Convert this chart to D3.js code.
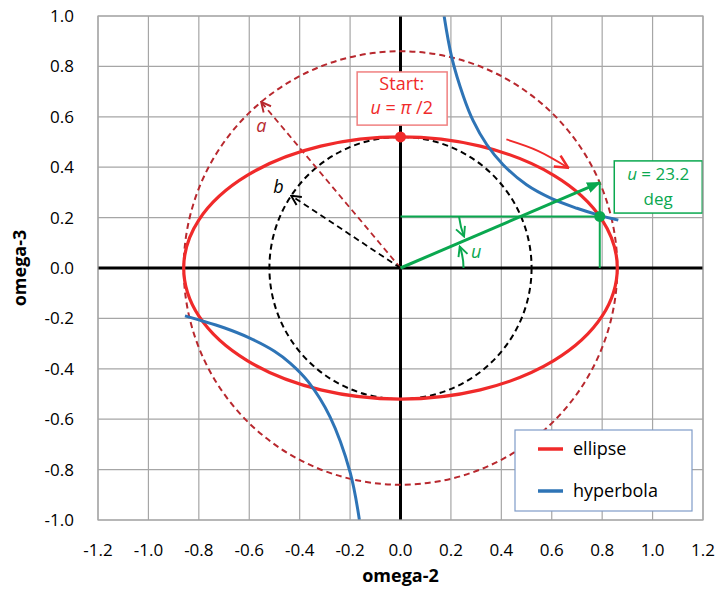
<!DOCTYPE html>
<html>
<head>
<meta charset="utf-8">
<script src="https://cdn.jsdelivr.net/npm/d3@7"></script>
<style>
  html, body { margin: 0; padding: 0; background: #fff; }
  svg { display: block; font-family: "Open Sans", "Noto Sans", sans-serif; }
</style>
</head>
<body>
<svg id="chart" width="720" height="589"></svg>
<script>
// Axis ticks
const xTicks = [-1.2, -1.0, -0.8, -0.6, -0.4, -0.2, 0.0, 0.2, 0.4, 0.6, 0.8, 1.0, 1.2];
const yTicks = [-1.0, -0.8, -0.6, -0.4, -0.2, 0.0, 0.2, 0.4, 0.6, 0.8, 1.0];

// Ellipse semi-axes and the marked parameter angle (degrees)
const semiA = 0.86;
const semiB = 0.52;
const uDeg = 23.2;

// Hyperbola branches (omega-2, omega-3)
const hypUpperX = [0.173, 0.204, 0.25, 0.288, 0.342, 0.407, 0.5, 0.6, 0.7, 0.78, 0.864];
const hypUpperY = [1.0, 0.833, 0.68, 0.585, 0.49, 0.41, 0.33, 0.275, 0.237, 0.212, 0.19];
const hypLowerX = [-0.855, -0.8, -0.7, -0.6, -0.5, -0.438, -0.367, -0.28, -0.2, -0.163];
const hypLowerY = [-0.19, -0.206, -0.237, -0.277, -0.33, -0.377, -0.45, -0.59, -0.81, -1.0];

const legendItems = ["ellipse", "hyperbola"];

const W = 720, H = 589;
const margin = { left: 98, right: 17, top: 16, bottom: 69 };

const svg = d3.select("#chart");
const x = d3.scaleLinear().domain([-1.2, 1.2]).range([margin.left, W - margin.right]);
const y = d3.scaleLinear().domain([-1.0, 1.0]).range([H - margin.bottom, margin.top]);

const RED = "#f02a2a", DARKRED = "#b8282e", BLUE = "#2e74b6", GREEN = "#0aa84f";

// markers
const defs = svg.append("defs");
function openArrow(id, color, size) {
  defs.append("marker").attr("id", id)
    .attr("viewBox", "0 0 10 10").attr("refX", 9).attr("refY", 5)
    .attr("markerUnits", "userSpaceOnUse")
    .attr("markerWidth", size).attr("markerHeight", size)
    .attr("orient", "auto")
    .append("path").attr("d", "M1,1 L9,5 L1,9")
    .attr("fill", "none").attr("stroke", color).attr("stroke-width", 1.6);
}
openArrow("arrDarkRed", DARKRED, 12);
openArrow("arrBlack", "#000", 12);
openArrow("arrRed", RED, 16);
openArrow("arrGreen", GREEN, 12);
defs.append("marker").attr("id", "arrGreenFill")
  .attr("viewBox", "0 0 10 10").attr("refX", 9).attr("refY", 5)
  .attr("markerUnits", "userSpaceOnUse")
  .attr("markerWidth", 14).attr("markerHeight", 14)
  .attr("orient", "auto")
  .append("path").attr("d", "M0,1 L10,5 L0,9 Z").attr("fill", GREEN);

defs.append("clipPath").attr("id", "plotClip")
  .append("rect")
  .attr("x", x(-1.2)).attr("y", y(1.0))
  .attr("width", x(1.2) - x(-1.2)).attr("height", y(-1.0) - y(1.0));

// grid
const grid = svg.append("g");
grid.selectAll(".vg").data(xTicks).enter().append("line")
  .attr("x1", d => x(d)).attr("x2", d => x(d))
  .attr("y1", y(-1.0)).attr("y2", y(1.0))
  .attr("stroke", "#a6a6a6").attr("stroke-width", 1.2);
grid.selectAll(".hg").data(yTicks).enter().append("line")
  .attr("x1", x(-1.2)).attr("x2", x(1.2))
  .attr("y1", d => y(d)).attr("y2", d => y(d))
  .attr("stroke", "#a6a6a6").attr("stroke-width", 1.2);

// tick labels
const fmt = d => d3.format(".1f")(d).replace("−", "-");
svg.append("g").selectAll("text").data(xTicks).enter().append("text")
  .attr("x", d => x(d)).attr("y", y(-1.0) + 36)
  .attr("text-anchor", "middle").attr("font-size", 17).attr("fill", "#000")
  .text(fmt);
svg.append("g").selectAll("text").data(yTicks).enter().append("text")
  .attr("x", x(-1.2) - 24).attr("y", d => y(d) + 6)
  .attr("text-anchor", "end").attr("font-size", 17).attr("fill", "#000")
  .text(fmt);

// axis titles
svg.append("text").attr("x", x(0)).attr("y", 582)
  .attr("text-anchor", "middle").attr("font-size", 18).attr("font-weight", "bold")
  .text("omega-2");
svg.append("text").attr("transform", `translate(26,${y(0)}) rotate(-90)`)
  .attr("text-anchor", "middle").attr("font-size", 18).attr("font-weight", "bold")
  .text("omega-3");

const plot = svg.append("g").attr("clip-path", "url(#plotClip)");

// main axes through the origin
plot.append("line").attr("x1", x(-1.2)).attr("x2", x(1.2)).attr("y1", y(0)).attr("y2", y(0))
  .attr("stroke", "#000").attr("stroke-width", 3);
plot.append("line").attr("x1", x(0)).attr("x2", x(0)).attr("y1", y(-1)).attr("y2", y(1))
  .attr("stroke", "#000").attr("stroke-width", 3);

// auxiliary circles: radius a (outer) and radius b (inner)
plot.append("ellipse").attr("cx", x(0)).attr("cy", y(0))
  .attr("rx", x(semiA) - x(0)).attr("ry", y(0) - y(semiA))
  .attr("fill", "none").attr("stroke", DARKRED).attr("stroke-width", 2)
  .attr("stroke-dasharray", "6,4");
plot.append("ellipse").attr("cx", x(0)).attr("cy", y(0))
  .attr("rx", x(semiB) - x(0)).attr("ry", y(0) - y(semiB))
  .attr("fill", "none").attr("stroke", "#000").attr("stroke-width", 2)
  .attr("stroke-dasharray", "6,4");

// radius a and radius b indicators
const angA = 130 * Math.PI / 180, angB = 146.5 * Math.PI / 180;
plot.append("line").attr("x1", x(0)).attr("y1", y(0))
  .attr("x2", x(semiA * Math.cos(angA))).attr("y2", y(semiA * Math.sin(angA)))
  .attr("stroke", DARKRED).attr("stroke-width", 1.8).attr("stroke-dasharray", "6,4")
  .attr("marker-end", "url(#arrDarkRed)");
plot.append("line").attr("x1", x(0)).attr("y1", y(0))
  .attr("x2", x(semiB * Math.cos(angB))).attr("y2", y(semiB * Math.sin(angB)))
  .attr("stroke", "#000").attr("stroke-width", 1.8).attr("stroke-dasharray", "6,4")
  .attr("marker-end", "url(#arrBlack)");
svg.append("text").attr("x", x(-0.572)).attr("y", y(0.54))
  .attr("font-size", 18).attr("font-style", "italic").attr("fill", DARKRED).text("a");
svg.append("text").attr("x", x(-0.505)).attr("y", y(0.298))
  .attr("font-size", 18).attr("font-style", "italic").attr("fill", "#000").text("b");

// ellipse
plot.append("ellipse").attr("cx", x(0)).attr("cy", y(0))
  .attr("rx", x(semiA) - x(0)).attr("ry", y(0) - y(semiB))
  .attr("fill", "none").attr("stroke", RED).attr("stroke-width", 3.2);

// hyperbola branches
const hypLine = d3.line().x(d => x(d[0])).y(d => y(d[1])).curve(d3.curveCatmullRom.alpha(0.5));
plot.append("path").datum(d3.zip(hypUpperX, hypUpperY)).attr("d", hypLine)
  .attr("fill", "none").attr("stroke", BLUE).attr("stroke-width", 3);
plot.append("path").datum(d3.zip(hypLowerX, hypLowerY)).attr("d", hypLine)
  .attr("fill", "none").attr("stroke", BLUE).attr("stroke-width", 3);

// direction of travel along the ellipse
const travel = [[0.42, 0.51], [0.545, 0.465], [0.665, 0.398]];
plot.append("path").datum(travel)
  .attr("d", d3.line().x(d => x(d[0])).y(d => y(d[1])).curve(d3.curveCardinal))
  .attr("fill", "none").attr("stroke", RED).attr("stroke-width", 1.8)
  .attr("marker-end", "url(#arrRed)");

// eccentric-anomaly construction at u
const u = uDeg * Math.PI / 180;
const px = semiA * Math.cos(u), py = semiB * Math.sin(u), qy = semiA * Math.sin(u);
plot.append("line").attr("x1", x(0)).attr("y1", y(py)).attr("x2", x(px)).attr("y2", y(py))
  .attr("stroke", GREEN).attr("stroke-width", 2);
plot.append("line").attr("x1", x(px)).attr("y1", y(0)).attr("x2", x(px)).attr("y2", y(qy))
  .attr("stroke", GREEN).attr("stroke-width", 2);
plot.append("line").attr("x1", x(0)).attr("y1", y(0)).attr("x2", x(px)).attr("y2", y(qy))
  .attr("stroke", GREEN).attr("stroke-width", 3)
  .attr("marker-end", "url(#arrGreenFill)");

// angle marks for u
const r0 = x(0.25) - x(0);
const arcEnd = 20 * Math.PI / 180;
plot.append("path")
  .attr("d", `M${x(0) + r0},${y(0)} A${r0},${r0} 0 0 0 ${x(0) + r0 * Math.cos(arcEnd)},${y(0) - r0 * Math.sin(arcEnd)}`)
  .attr("fill", "none").attr("stroke", GREEN).attr("stroke-width", 2)
  .attr("marker-end", "url(#arrGreen)");
plot.append("path")
  .attr("d", `M${x(0.232)},${y(py)} Q${x(0.238)},${y(0.16)} ${x(0.252)},${y(0.125)}`)
  .attr("fill", "none").attr("stroke", GREEN).attr("stroke-width", 2)
  .attr("marker-end", "url(#arrGreen)");
svg.append("text").attr("x", x(0.28)).attr("y", y(0.04))
  .attr("font-size", 18).attr("font-style", "italic").attr("fill", GREEN).text("u");

// points on the ellipse
plot.append("circle").attr("cx", x(0)).attr("cy", y(semiB)).attr("r", 5.5).attr("fill", RED);
plot.append("circle").attr("cx", x(px)).attr("cy", y(py)).attr("r", 5.5).attr("fill", GREEN);

// "Start" callout
const sb = svg.append("g");
sb.append("rect").attr("x", x(-0.172)).attr("y", y(0.778))
  .attr("width", x(0.185) - x(-0.172)).attr("height", y(0.567) - y(0.778))
  .attr("fill", "#fff").attr("stroke", "#f08080").attr("stroke-width", 1.5);
sb.append("text").attr("x", x(0.005)).attr("y", y(0.705))
  .attr("text-anchor", "middle").attr("font-size", 18).attr("fill", RED).text("Start:");
const sl = sb.append("text").attr("x", x(0.005)).attr("y", y(0.61))
  .attr("text-anchor", "middle").attr("font-size", 18).attr("fill", RED);
sl.append("tspan").attr("font-style", "italic").text("u");
sl.append("tspan").text(" = ");
sl.append("tspan").attr("font-style", "italic").text("π");
sl.append("tspan").text(" /2");

// angle value callout
const gb = svg.append("g");
gb.append("rect").attr("x", x(0.848)).attr("y", y(0.425))
  .attr("width", x(1.197) - x(0.848)).attr("height", y(0.218) - y(0.425))
  .attr("fill", "#fff").attr("stroke", GREEN).attr("stroke-width", 1.5);
const gl = gb.append("text").attr("x", x(1.022)).attr("y", y(0.348))
  .attr("text-anchor", "middle").attr("font-size", 17).attr("fill", GREEN);
gl.append("tspan").attr("font-style", "italic").text("u");
gl.append("tspan").text(" = " + uDeg.toFixed(1));
gb.append("text").attr("x", x(1.022)).attr("y", y(0.25))
  .attr("text-anchor", "middle").attr("font-size", 17).attr("fill", GREEN).text("deg");

// legend
const lg = svg.append("g");
lg.append("rect").attr("x", 515).attr("y", 430).attr("width", 177).attr("height", 81)
  .attr("fill", "#fff").attr("stroke", "#7f9cc8").attr("stroke-width", 1.2);
const legColors = [RED, BLUE];
legendItems.forEach((name, i) => {
  const yy = 449 + i * 42;
  lg.append("line").attr("x1", 538).attr("x2", 563).attr("y1", yy).attr("y2", yy)
    .attr("stroke", legColors[i]).attr("stroke-width", 3.5);
  lg.append("text").attr("x", 573).attr("y", yy + 6).attr("font-size", 18).attr("fill", "#000").text(name);
});

// plot border
svg.append("rect").attr("x", x(-1.2)).attr("y", y(1.0))
  .attr("width", x(1.2) - x(-1.2)).attr("height", y(-1.0) - y(1.0))
  .attr("fill", "none").attr("stroke", "#a6a6a6").attr("stroke-width", 1.2);
</script>
</body>
</html>
